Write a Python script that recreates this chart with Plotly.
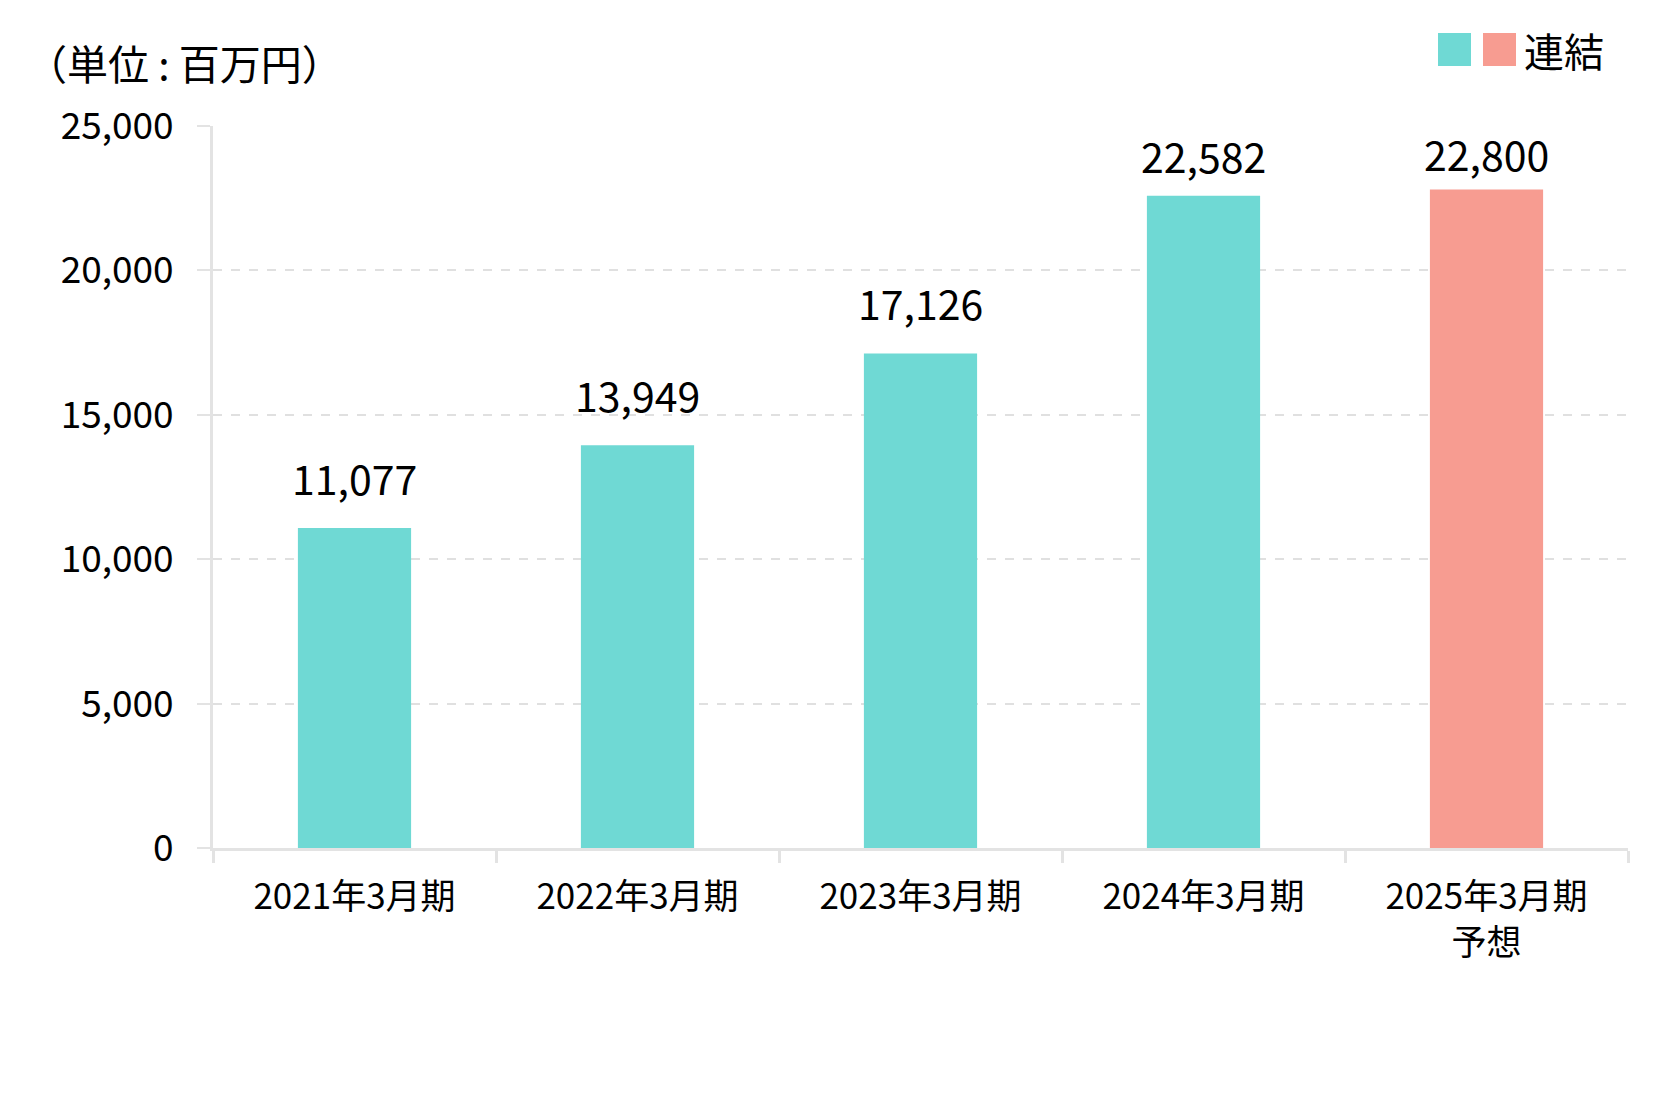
import plotly.graph_objects as go

periods = ["2021年3月期", "2022年3月期", "2023年3月期", "2024年3月期", "2025年3月期<br>予想"]
sales = [11077, 13949, 17126, 22582, 22800]
bar_colors = ["#6fd9d4", "#6fd9d4", "#6fd9d4", "#6fd9d4", "#f79c91"]
y_ticks = [0, 5000, 10000, 15000, 20000, 25000]

font = "Noto Sans CJK JP"
W, H = 1670, 1095
OFF = 8  # page body margin
L, R, T, B = 213 - OFF, 42 + OFF, 126 - OFF, 247 + OFF
pw, ph = W - L - R, H - T - B


# screen pixel -> paper coordinates
def px(x):
    return (x - OFF - L) / pw


def py(y):
    return (H - B - (y - OFF)) / ph


fig = go.Figure(
    go.Bar(
        x=periods,
        y=sales,
        marker=dict(color=bar_colors, line_width=0),
        width=0.4,
        showlegend=False,
    )
)

# value labels (top two squeezed under the frame like the original)
shifts = [28, 28, 28, 18, 14]
for p, v, s in zip(periods, sales, shifts):
    fig.add_annotation(
        x=p, y=v, text=f"{v:,}", showarrow=False, yanchor="bottom",
        yshift=s - 9, font=dict(size=41, color="black", family=font),
    )

# unit note
fig.add_annotation(
    xref="paper", yref="paper", x=px(24), y=py(62), xanchor="left", yanchor="middle",
    text="（単位 : 百万円）", showarrow=False, font=dict(size=41, color="black", family=font),
)

# legend drawn by hand (big squares)
for x0, c in [(1438, "#6fd9d4"), (1483, "#f79c91")]:
    fig.add_shape(
        type="rect", xref="paper", yref="paper",
        x0=px(x0), x1=px(x0 + 33), y0=py(66), y1=py(33),
        fillcolor=c, line_width=0,
    )
fig.add_annotation(
    xref="paper", yref="paper", x=px(1522), y=py(50), xanchor="left", yanchor="middle",
    text="連結", showarrow=False, font=dict(size=40, color="black", family=font),
)

fig.update_layout(
    width=W, height=H,
    margin=dict(l=L, r=R, t=T, b=B),
    paper_bgcolor="white", plot_bgcolor="white",
    font=dict(family=font, color="black"),
)
fig.update_xaxes(
    type="category", showline=True, linecolor="#e3e3e3", linewidth=3,
    ticks="outside", tickson="boundaries", ticklen=12, tickcolor="#e3e3e3", tickwidth=3,
    showgrid=False, tickfont=dict(size=35), ticklabelstandoff=16,
)
fig.update_yaxes(
    range=[0, 25000], tickvals=y_ticks, tickformat=",d",
    showline=True, linecolor="#e3e3e3", linewidth=3,
    ticks="outside", ticklen=13, tickcolor="#e3e3e3", tickwidth=2,
    showgrid=True, gridcolor="#e0e0e0", gridwidth=2, griddash="dash",
    zeroline=False, tickfont=dict(size=37), ticklabelstandoff=16,
)

fig.write_html("out.html")
